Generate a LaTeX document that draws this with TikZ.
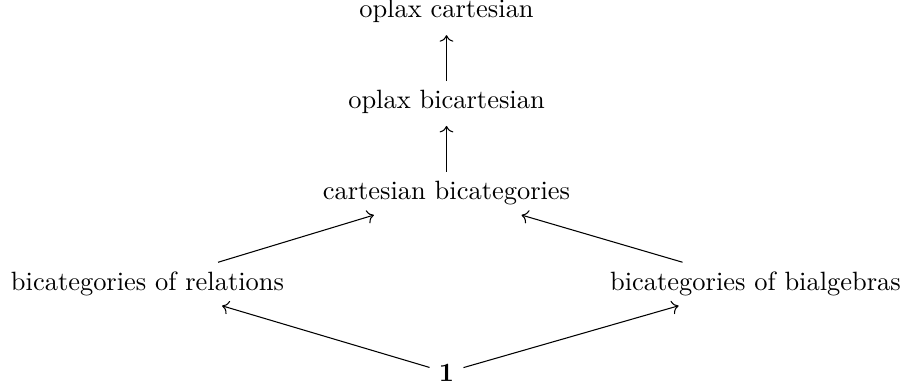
\documentclass[tikz,border=0pt]{standalone}
\usetikzlibrary{arrows.meta}
\tikzstyle{classe}=[inner sep=0.3333em, anchor=base]
\tikzstyle{fleche}=[-{Computer Modern Rightarrow}, shorten >=1pt]

\begin{document}
\begin{tikzpicture}[
        x=0.378pt, y=-0.378pt,
        every node/.style={font=\normalsize}
    ]
    \useasboundingbox (0,0) rectangle (904,387);

    \node[classe] (ocart) at (446.5,18) {oplax cartesian};
    \node[classe] (obicart) at (446.5,108.75) {oplax bicartesian};
    \node[classe] (cartbicat) at (446.5,199.5) {cartesian bicategories};
    \node[classe] (relations) at (147.5,290.25) {bicategories of relations};
    \node[classe] (bialgebres) at (755.5,290.25) {bicategories of bialgebras};
    \node[classe] (un) at (446.5,381) {$\mathbf{1}$};

    \draw[fleche] (obicart) -- (ocart);
    \draw[fleche] (cartbicat) -- (obicart);
    \draw[fleche] (relations) -- (cartbicat);
    \draw[fleche] (bialgebres) -- (cartbicat);
    \draw[fleche] (un) -- (relations);
    \draw[fleche] (un) -- (bialgebres);

\end{tikzpicture}
\end{document}
